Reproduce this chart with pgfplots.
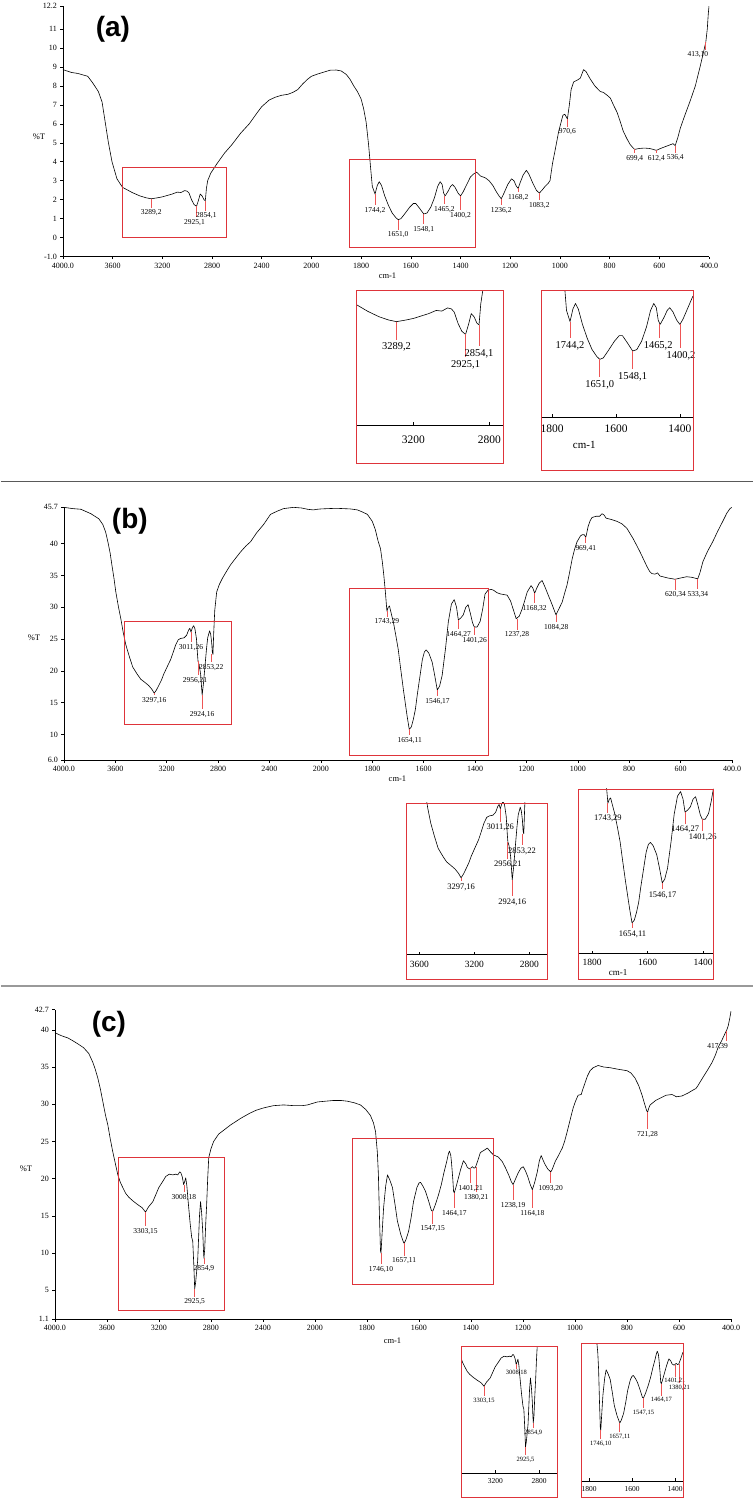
\documentclass[border=0pt]{standalone}
\usepackage{fontspec}
\setmainfont{Liberation Serif}
\newfontfamily\labfont{Liberation Sans}
\usepackage{pgfplots}
\usepackage{pgfplotstable}
\pgfplotsset{compat=1.18}
\definecolor{boxred}{RGB}{222,52,58}
\definecolor{pkred}{RGB}{238,85,85}
\pgfdeclareplotmark{empty}{}
\newcommand{\fs}[1]{\fontsize{#1}{#1}\selectfont}

\pgfplotsset{
  spec/.style={black, line width=0.6pt, no markers, line join=round},
  peaks/.style={only marks, mark=empty, point meta=explicit symbolic,
    visualization depends on={\thisrow{len}\as\plen},
    visualization depends on={\thisrow{dx}\as\pdx},
    error bars/y dir=minus, error bars/y explicit, error bars/error mark=none,
    error bars/error bar style={pkred, line width=0.8pt},
    nodes near coords,
    every node near coord/.append style={anchor=north, inner sep=0pt, text=black,
      font=\fs{#1}, xshift={\pdx*1pt}, yshift={-\plen*1pt}}},
  mainax/.style={anchor=south west, scale only axis, xmin=0, xmax=5200,
    enlargelimits=false, axis lines*=left, axis line style={-, line width=0.7pt},
    tick align=outside, major tick length=2.5pt, tick style={black, line width=0.5pt},
    xtick={0,400,800,1200,1600,2000,2400,2800,3200,3600,4000,4400,4800,5200},
    xticklabels={4000.0,3600,3200,2800,2400,2000,1800,1600,1400,1200,1000,800,600,400.0},
    ticklabel style={font=\fs{8}},
    % wavenumbers below 2000 are drawn at twice the scale
    x filter/.expression={x>=2000 ? 4000-x : 6000-2*x}},
  inax/.style={anchor=south west, scale only axis, x dir=reverse, enlargelimits=false,
    axis x line*=bottom, axis y line=none, axis line style={-, line width=0.7pt},
    ytick=\empty, tick align=inside, major tick length=3pt, tick style={black}},
}

% ---------- spectrum (a)
\pgfplotstableread{
wn v
4000 8.85
3930 8.7
3880 8.65
3800 8.5
3760 8.15
3715 7.7
3685 7.15
3660 6.1
3635 5.05
3605 4.0
3565 3.1
3520 2.65
3440 2.37
3380 2.2
3330 2.1
3289 2.05
3240 2.1
3200 2.15
3120 2.3
3080 2.4
3050 2.38
3020 2.48
3000 2.45
2985 2.35
2965 2.0
2945 1.75
2925 1.65
2910 1.95
2895 2.3
2880 2.2
2865 2.0
2854 1.95
2845 2.6
2835 3.0
2810 3.4
2760 3.9
2700 4.45
2640 4.9
2570 5.5
2500 6.0
2440 6.55
2400 6.9
2340 7.25
2290 7.4
2240 7.5
2190 7.55
2150 7.65
2110 7.8
2070 8.1
2030 8.35
2000 8.5
1975 8.62
1950 8.72
1925 8.82
1900 8.83
1880 8.78
1860 8.6
1845 8.35
1830 8.0
1815 7.7
1800 7.3
1790 6.8
1780 6.1
1770 4.9
1762 3.7
1755 2.7
1744 2.3
1735 2.75
1727 2.95
1718 2.75
1705 2.2
1690 1.7
1675 1.3
1660 1.05
1651 0.95
1640 1.0
1625 1.25
1605 1.6
1590 1.8
1580 1.8
1565 1.55
1548 1.25
1535 1.3
1520 1.6
1505 2.1
1492 2.7
1482 2.95
1474 2.8
1468 2.35
1462 2.2
1450 2.45
1440 2.7
1432 2.8
1422 2.65
1410 2.35
1400 2.2
1390 2.4
1375 2.8
1360 3.2
1348 3.35
1335 3.45
1320 3.25
1300 3.15
1285 3.0
1270 2.75
1255 2.4
1245 2.2
1236 2.05
1225 2.35
1210 2.8
1195 3.1
1185 3.0
1175 2.7
1168 2.6
1160 2.9
1148 3.3
1135 3.55
1125 3.35
1110 2.9
1095 2.5
1083 2.35
1072 2.5
1060 2.7
1048 2.85
1040 3.0
1030 3.9
1018 4.7
1005 5.6
995 6.1
988 6.45
980 6.5
970 6.25
962 7.0
955 7.8
945 8.2
930 8.3
918 8.4
905 8.85
895 8.75
880 8.4
860 8.0
838 7.7
825 7.65
810 7.5
797 7.35
785 7.0
770 6.6
757 6.1
745 5.6
730 5.2
717 4.9
705 4.72
699 4.65
680 4.7
660 4.72
640 4.7
625 4.65
612 4.6
595 4.7
575 4.8
555 4.9
545 4.95
536 4.85
525 5.3
516 5.75
500 6.35
476 7.2
455 8.0
436 9.0
420 9.9
413 10.3
407 11.0
403 11.8
400 12.2
}\specA

% ---------- spectrum (b)
\pgfplotstableread{
wn v
4000 45.7
3930 45.5
3868 45.4
3790 44.7
3728 43.9
3697 43.0
3675 41.8
3658 40.3
3640 38.5
3627 36.7
3610 34.5
3596 32.4
3575 30.0
3557 28.2
3538 26.0
3518 24.1
3490 22.2
3464 20.6
3430 19.5
3402 18.7
3370 18.2
3340 17.7
3315 17.1
3297 16.5
3280 17.0
3262 17.7
3240 18.6
3223 19.5
3195 20.7
3169 21.8
3150 22.9
3130 24.1
3110 24.9
3091 25.1
3065 25.2
3045 25.6
3030 26.4
3020 26.7
3011 26.1
3000 26.8
2990 27.1
2980 26.6
2968 25.0
2960 22.5
2956 21.5
2948 21.0
2936 19.5
2924 16.2
2914 18.0
2904 20.3
2890 23.5
2881 25.2
2866 26.3
2858 25.8
2850 24.5
2845 23.0
2840 22.6
2834 26.0
2826 29.5
2811 32.4
2790 33.6
2765 34.6
2730 35.8
2702 36.7
2660 37.8
2625 38.7
2585 39.6
2547 40.3
2500 41.7
2446 43.0
2392 44.6
2340 45.1
2291 45.5
2213 45.7
2150 45.6
2104 45.4
2060 45.3
2026 45.4
2000 45.45
1974 45.5
1940 45.55
1912 45.5
1885 45.45
1858 45.3
1840 45.0
1819 44.6
1800 43.5
1788 42.2
1778 40.5
1768 39.2
1761 37.2
1755 35.0
1749 32.4
1743 29.4
1738 30.0
1733 30.2
1726 29.0
1718 27.7
1708 25.5
1699 23.4
1690 20.5
1679 17.1
1670 14.5
1664 12.8
1656 10.8
1648 11.2
1640 12.4
1632 14.0
1625 16.2
1615 19.0
1605 21.8
1597 23.0
1590 23.3
1580 22.8
1567 21.4
1557 19.3
1547 17.0
1538 17.6
1528 19.3
1515 23.5
1504 27.7
1492 30.5
1481 31.2
1472 30.0
1465 28.0
1456 28.3
1446 28.8
1436 30.0
1427 30.4
1418 29.0
1410 27.6
1403 26.9
1392 26.9
1380 27.8
1370 29.8
1361 32.1
1349 32.7
1337 32.8
1329 32.7
1315 32.3
1302 32.1
1288 32.0
1275 31.9
1262 31.0
1250 29.5
1240 28.2
1228 28.6
1217 29.7
1207 31.0
1197 32.4
1182 33.4
1175 33.0
1168 32.2
1160 33.0
1150 33.8
1139 34.2
1128 33.2
1116 32.0
1100 30.4
1085 28.8
1073 29.8
1061 30.8
1050 32.4
1042 33.5
1032 35.5
1022 37.6
1012 39.2
1003 40.3
990 41.2
983 41.4
975 41.4
969 41.0
964 41.9
960 42.7
952 43.6
945 44.1
929 44.3
915 44.3
906 44.7
898 44.5
890 44.0
870 43.8
848 43.5
828 43.1
809 42.4
797 41.6
785 40.8
772 39.8
758 38.7
745 37.6
731 36.4
720 35.6
712 35.3
700 35.2
690 35.4
680 34.9
669 34.8
650 34.6
635 34.5
622 34.4
600 34.6
576 34.8
555 34.7
537 34.5
533 34.5
525 35.4
513 37.2
495 38.8
475 40.3
455 42.0
436 43.5
420 44.8
408 45.5
401 45.7
}\specB

% ---------- spectrum (c)
\pgfplotstableread{
wn v
4000 39.6
3950 39.2
3900 38.9
3860 38.5
3823 38.1
3780 37.6
3739 36.8
3708 35.6
3690 34.7
3670 33.5
3650 32.0
3631 30.3
3612 28.6
3593 27.2
3574 25.3
3555 23.6
3535 22.0
3516 20.5
3497 19.5
3478 18.8
3455 18.0
3432 17.5
3400 17.0
3363 16.5
3330 16.1
3303 15.5
3280 16.2
3247 16.9
3225 17.8
3201 18.8
3175 19.5
3147 20.3
3120 20.6
3094 20.5
3070 20.6
3055 20.5
3040 20.9
3032 20.8
3020 20.2
3010 19.2
3002 19.6
2994 20.1
2985 19.0
2978 17.5
2971 16.1
2960 14.0
2948 12.1
2940 11.6
2932 8.5
2925 5.2
2918 6.0
2910 7.5
2902 9.0
2895 12.0
2888 15.0
2880 16.9
2872 15.5
2863 12.9
2858 10.5
2854 9.3
2848 10.5
2840 14.0
2833 16.5
2825 20.0
2817 22.8
2800 24.0
2779 25.0
2740 26.0
2702 26.5
2650 27.2
2571 28.1
2500 28.8
2450 29.2
2395 29.5
2320 29.8
2241 29.9
2160 29.8
2100 29.8
2057 29.9
2020 30.1
1990 30.3
1960 30.4
1928 30.5
1900 30.5
1875 30.4
1850 30.2
1825 29.9
1805 29.3
1787 28.5
1775 27.5
1767 26.3
1760 23.5
1756 20.5
1752 15.0
1748 10.3
1746 10.0
1742 12.5
1736 16.1
1728 19.0
1721 20.5
1712 19.8
1702 18.8
1692 16.5
1683 14.3
1670 12.5
1660 11.5
1657 11.3
1650 11.8
1640 12.9
1630 14.8
1621 16.9
1608 18.8
1600 19.4
1594 19.5
1585 19.0
1575 18.3
1563 17.0
1552 15.7
1547 15.6
1537 16.5
1525 17.8
1514 19.2
1504 20.8
1494 22.2
1487 23.3
1483 23.7
1478 23.2
1475 22.2
1470 20.0
1467 18.3
1464 18.1
1458 18.8
1452 19.6
1440 21.2
1429 22.4
1420 22.0
1414 21.5
1405 21.3
1401 21.4
1395 21.6
1388 21.4
1383 21.5
1373 22.5
1364 23.5
1350 23.8
1337 24.1
1325 23.6
1314 23.2
1295 22.9
1280 22.3
1268 21.5
1255 20.5
1245 19.6
1238 19.2
1228 20.0
1218 20.8
1208 21.4
1199 21.6
1190 21.0
1182 20.3
1172 19.2
1164 18.5
1155 19.5
1145 20.9
1137 22.4
1130 23.1
1123 22.5
1115 21.9
1105 21.3
1093 20.9
1088 21.2
1076 22.3
1062 23.2
1049 24.1
1040 25.0
1030 26.3
1018 28.0
1007 29.5
998 30.4
988 31.2
976 31.3
970 32.0
961 32.9
952 33.8
942 34.5
930 34.9
911 35.2
890 35.0
865 34.9
835 34.7
800 34.5
785 34.2
769 33.5
755 32.5
742 31.2
732 30.0
725 29.2
721 28.9
716 29.5
711 29.9
704 30.1
690 30.5
673 30.8
650 31.2
627 31.3
610 31.0
589 31.1
565 31.5
546 31.9
535 32.1
527 32.5
508 33.6
490 34.6
473 35.6
460 36.6
450 37.6
435 38.6
423 39.5
417 39.9
411 40.5
405 41.5
400 42.5
}\specC

% ---------- peak labels: curve value, label drop (pt), label shift (pt)
\pgfplotstableread{
wn v len dx lab
3289 2.05 11 0 3289,2
2925 1.65 13 -2 2925,1
2854 1.95 12 1 2854,1
1744 2.3 13 0 1744,2
1651 0.95 12 0 1651,0
1548 1.25 12 0 1548,1
1465 2.2 10.5 0 1465,2
1400 2.2 16 0 1400,2
1236 2.05 8.5 0 1236,2
1168 2.6 6 0 1168,2
1083 2.35 9 0 1083,2
970 6.25 9.5 0 970,6
699 4.65 6 0 699,4
612 4.6 5 0 612,4
536 4.85 9 0 536,4
413 10.3 9.5 -8 413,10
}\pkA
\pgfplotstableread{
wn v len dx lab
3289 2.05 21 0 3289,2
2925 1.65 25.5 0 2925,1
2854 1.95 24.5 0 2854,1
}\pkAa
\pgfplotstableread{
wn v len dx lab
1744 2.3 19.5 0 1744,2
1651 0.95 20.7 0 1651,0
1548 1.25 21 0 1548,1
1465 2.2 17 -1 1465,2
1400 2.2 27 1 1400,2
}\pkAb
\pgfplotstableread{
wn v len dx lab
3297 16.5 4 0 3297,16
3011 26.1 12 0 3011,26
2956 21.5 16 -3 2956,21
2924 16.2 16 0 2924,16
2853 22.6 10 0 2853,22
1743 29.4 7.5 0 1743,29
1654 10.8 7.5 0 1654,11
1546 17.0 8 0 1546,17
1464 28.0 11.5 0 1464,27
1401 26.9 10.5 0 1401,26
1237 28.2 13 0 1237,28
1168 32.2 12 0 1168,32
1084 28.8 9.5 0 1084,28
969 41.0 8 0 969,41
620 34.4 12.5 0 620,34
533 34.5 12.5 0 533,34
}\pkB
\pgfplotstableread{
wn v len dx lab
3011 26.1 15 0 3011,26
2956 21.5 19 0 2956,21
2853 22.6 13.5 0 2853,22
3297 16.5 5.5 0 3297,16
2924 16.2 18.5 0 2924,16
}\pkBa
\pgfplotstableread{
wn v len dx lab
1743 29.4 12 0 1743,29
1654 10.8 7.5 0 1654,11
1546 17.0 8.5 0 1546,17
1464 28.0 14 0 1464,27
1401 26.9 14 0 1401,26
}\pkBb
\pgfplotstableread{
wn v len dx lab
3303 15.5 16 0 3303,15
3008 19.2 9.5 0 3008,18
2854 9.3 7.5 0 2854,9
2925 5.2 10 0 2925,5
1746 10.0 13 0 1746,10
1657 11.3 14.5 0 1657,11
1547 15.6 14.5 0 1547,15
1464 18.1 17.5 0 1464,17
1401 21.4 17 0 1401,21
1380 21.5 26.5 0 1380,21
1238 19.2 17.5 0 1238,19
1164 18.5 20.5 0 1164,18
1093 20.9 13 0 1093,20
721 28.9 19 0 721,28
417 39.9 12.5 -9 417,39
}\pkC
\pgfplotstableread{
wn v len dx lab
3303 15.5 11.5 0 3303,15
3008 19.2 6 0 3008,18
2854 9.3 7 0 2854,9
2925 5.2 9.7 0 2925,5
}\pkCa
\pgfplotstableread{
wn v len dx lab
1746 10.0 10.5 0 1746,10
1657 11.3 11 0 1657,11
1547 15.6 12 0 1547,15
1464 18.1 13.5 0 1464,17
1401 21.4 13.5 0 1401,21
1380 21.5 21 0 1380,21
}\pkCb

\begin{document}
\begin{tikzpicture}
\begin{scope}[x=1pt,y=1pt]
\path[use as bounding box] (0,0) rectangle (753,-1498);
\end{scope}

% ================= (a)   19.0 pt per %T unit
\begin{axis}[mainax, at={(62pt,-255pt)}, width=647pt, height=251pt,
  ymin=-1, ymax=12.2, ytick={-1,0,1,2,3,4,5,6,7,8,9,10,11,12.2},
  yticklabels={-1.0,0,1,2,3,4,5,6,7,8,9,10,11,12.2}]
\addplot[spec] table[x=wn,y=v]{\specA};
\addplot[peaks=7.5] table[x=wn,y=v,meta=lab,y error expr={(\thisrow{len}-2)/19.0}]{\pkA};
\draw[boxred, line width=0.9pt] (axis cs:476,0) rectangle (axis cs:1317,3.68);
\draw[boxred, line width=0.9pt] (axis cs:2308,-0.53) rectangle (axis cs:3322,4.1);
\end{axis}

\begin{axis}[inax, at={(356pt,-424pt)}, width=147pt, height=135pt,
  xmin=2726, xmax=3500, ymin=-1.2, ymax=3.02,
  xtick={3200,2800}, xticklabels={3200,2800},
  ticklabel style={font=\fs{11.5}}, xticklabel shift=7pt]
\addplot[spec] table[x=wn,y=v]{\specA};
\addplot[peaks=10.5] table[x=wn,y=v,meta=lab,y error expr={(\thisrow{len}-3)/32.0}]{\pkAa};
\end{axis}

\begin{axis}[inax, at={(541pt,-416pt)}, width=152pt, height=127pt,
  xmin=1359, xmax=1834, ymin=-1.13, ymax=3.41,
  xtick={1800,1600,1400}, xticklabels={1800,1600,1400},
  ticklabel style={font=\fs{11.5}}, xticklabel shift=4pt]
\addplot[spec] table[x=wn,y=v]{\specA};
\addplot[peaks=10.5] table[x=wn,y=v,meta=lab,y error expr={(\thisrow{len}-3)/27.97}]{\pkAb};
\end{axis}

% ================= (b)   6.373 pt per unit
\begin{axis}[mainax, at={(63pt,-759pt)}, width=669pt, height=253pt,
  ymin=6, ymax=45.7, ytick={6,10,15,20,25,30,35,40,45.7},
  yticklabels={6.0,10,15,20,25,30,35,40,45.7}]
\addplot[spec] table[x=wn,y=v]{\specB};
\addplot[peaks=7.5] table[x=wn,y=v,meta=lab,y error expr={(\thisrow{len}-2)/6.373}]{\pkB};
\draw[boxred, line width=0.9pt] (axis cs:474,11.6) rectangle (axis cs:1305,27.8);
\draw[boxred, line width=0.9pt] (axis cs:2222,6.7) rectangle (axis cs:3302,32.9);
\end{axis}

\begin{axis}[inax, at={(406pt,-954pt)}, width=141pt, height=152pt,
  xmin=2669, xmax=3695, ymin=5.8, ymax=26.9,
  xtick={3600,3200,2800}, xticklabels={3600,3200,2800},
  ticklabel style={font=\fs{9.5}}, xticklabel shift=3pt]
\addplot[spec] table[x=wn,y=v]{\specB};
\addplot[peaks=8.5] table[x=wn,y=v,meta=lab,y error expr={(\thisrow{len}-2)/7.204}]{\pkBa};
\end{axis}

\begin{axis}[inax, at={(578pt,-953pt)}, width=135pt, height=165pt,
  xmin=1364, xmax=1850, ymin=6.0, ymax=31.6,
  xtick={1800,1600,1400}, xticklabels={1800,1600,1400},
  ticklabel style={font=\fs{9.5}}, xticklabel shift=2pt]
\addplot[spec] table[x=wn,y=v]{\specB};
\addplot[peaks=8.5] table[x=wn,y=v,meta=lab,y error expr={(\thisrow{len}-2)/6.445}]{\pkBb};
\end{axis}

% ================= (c)   7.452 pt per unit
\begin{axis}[mainax, at={(54pt,-1319pt)}, width=677pt, height=310pt,
  ymin=1.1, ymax=42.7, ytick={1.1,5,10,15,20,25,30,35,40,42.7},
  yticklabels={1.1,5,10,15,20,25,30,35,40,42.7}]
\addplot[spec] table[x=wn,y=v]{\specC};
\addplot[peaks=7.5] table[x=wn,y=v,meta=lab,y error expr={(\thisrow{len}-2)/7.452}]{\pkC};
\draw[boxred, line width=0.9pt] (axis cs:492,2.3) rectangle (axis cs:1306,22.8);
\draw[boxred, line width=0.9pt] (axis cs:2289,5.8) rectangle (axis cs:3372,25.4);
\end{axis}

\begin{axis}[inax, at={(461pt,-1473pt)}, width=96pt, height=127pt,
  xmin=2636, xmax=3509, ymin=0.75, ymax=22.3,
  xtick={3200,2800}, xticklabels={3200,2800},
  ticklabel style={font=\fs{7.5}}, xticklabel shift=2pt]
\addplot[spec] table[x=wn,y=v]{\specC};
\addplot[peaks=6.5] table[x=wn,y=v,meta=lab,y error expr={(\thisrow{len}-1.5)/5.893}]{\pkCa};
\end{axis}

\begin{axis}[inax, at={(581pt,-1481pt)}, width=102pt, height=138pt,
  xmin=1363, xmax=1837, ymin=1.2, ymax=25.1,
  xtick={1800,1600,1400}, xticklabels={1800,1600,1400},
  ticklabel style={font=\fs{7.5}}, xticklabel shift=2pt]
\addplot[spec] table[x=wn,y=v]{\specC};
\addplot[peaks=6.5] table[x=wn,y=v,meta=lab,y error expr={(\thisrow{len}-1.5)/5.774}]{\pkCb};
\end{axis}

% ---------- frames, separators and labels
\begin{scope}[x=1pt,y=1pt]
\draw[black!65, line width=1.5pt] (0,-480) -- (753,-480);
\draw[black!40, line width=2pt] (0,-985) -- (753,-985);
\draw[boxred, line width=0.9pt] (356,-289) rectangle (503,-462);
\draw[boxred, line width=0.9pt] (541,-289) rectangle (693,-469);
\draw[boxred, line width=0.9pt] (406,-802) rectangle (547,-979);
\draw[boxred, line width=0.9pt] (578,-788) rectangle (713,-979);
\draw[boxred, line width=0.9pt] (461,-1346) rectangle (557,-1497);
\draw[boxred, line width=0.9pt] (581,-1343) rectangle (683,-1497);
\node[font=\labfont\bfseries\fs{28}] at (112,-27) {(a)};
\node[font=\labfont\bfseries\fs{28}] at (129,-520) {(b)};
\node[font=\labfont\bfseries\fs{28}] at (108,-1024) {(c)};
\node[font=\fs{8.5}] at (38,-135) {\%T};
\node[font=\fs{8.5}] at (33,-637) {\%T};
\node[font=\fs{8.5}] at (25,-1168) {\%T};
\node[font=\fs{8.5}] at (387,-274) {cm-1};
\node[font=\fs{8.5}] at (397,-778) {cm-1};
\node[font=\fs{8.5}] at (392,-1341) {cm-1};
\node[font=\fs{11}] at (584,-443) {cm-1};
\node[font=\fs{9}] at (618,-972) {cm-1};
\end{scope}
\end{tikzpicture}
\end{document}
